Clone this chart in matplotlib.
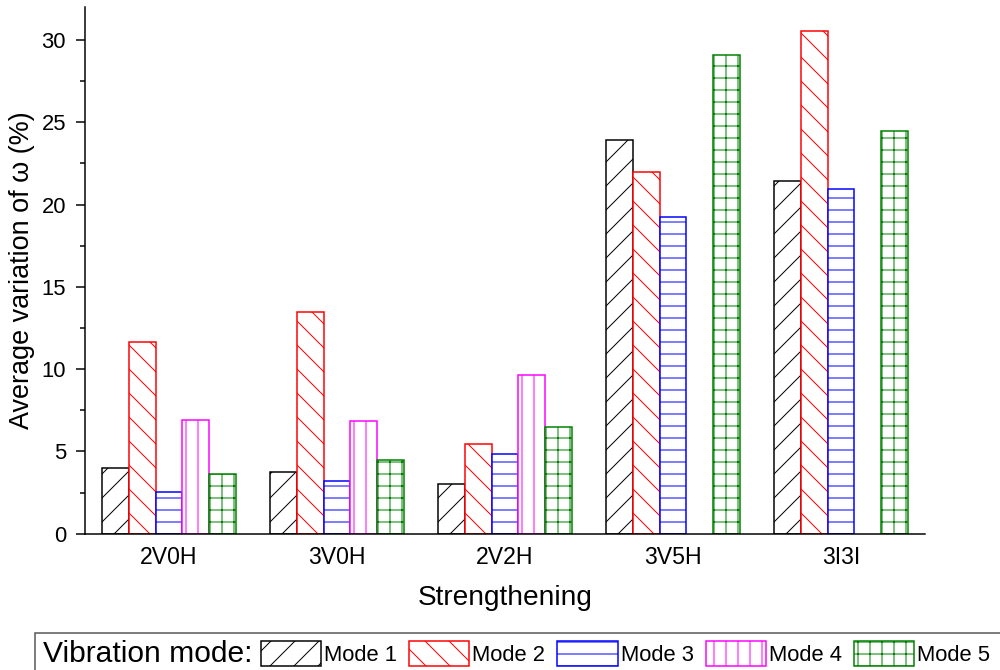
import matplotlib
matplotlib.use('Agg')
import matplotlib.pyplot as plt
import numpy as np
from matplotlib.patches import Patch, Rectangle
from matplotlib.ticker import MultipleLocator

plt.rcParams['font.family'] = ['Liberation Sans', 'DejaVu Sans']
plt.rcParams['hatch.linewidth'] = 1.0

# Average variation of the natural frequency per strengthening scheme
strengthening = ['2V0H', '3V0H', '2V2H', '3V5H', '3I3I']
mode_1 = [4.01, 3.77, 3.02, 23.9, 21.4]
mode_2 = [11.63, 13.47, 5.45, 22.0, 30.56]
mode_3 = [2.53, 3.22, 4.82, 19.26, 20.96]
mode_4 = [6.91, 6.87, 9.66, np.nan, np.nan]  # no mode 4 for 3V5H / 3I3I
mode_5 = [3.63, 4.48, 6.46, 29.08, 24.45]

series = [mode_1, mode_2, mode_3, mode_4, mode_5]
labels = ['Mode 1', 'Mode 2', 'Mode 3', 'Mode 4', 'Mode 5']
colors = ['black', 'red', 'blue', 'magenta', 'green']
hatches = ['/', '\\', '-', '|', '+']

fig = plt.figure(figsize=(1000 / 72, 670 / 72), dpi=72)
ax = fig.add_axes([0.085, 1 - 533.7 / 670, 0.84, (533.7 - 7) / 670])

x = np.arange(len(strengthening))
width = 0.16
for i, (vals, c, h) in enumerate(zip(series, colors, hatches)):
    ax.bar(x + (i - 2) * width, vals, width, facecolor='white',
           edgecolor=c, hatch=h, linewidth=1.5)

ax.set_xlim(-0.5, 4.5)
ax.set_ylim(0, 32)
ax.set_xticks(x)
ax.set_xticklabels(strengthening)
ax.yaxis.set_major_locator(MultipleLocator(5))
ax.yaxis.set_minor_locator(MultipleLocator(2.5))

for side in ['top', 'right']:
    ax.spines[side].set_visible(False)
for side in ['left', 'bottom']:
    ax.spines[side].set_linewidth(1.5)

ax.tick_params(axis='y', which='major', length=9, width=1.5, labelsize=22, pad=10)
ax.tick_params(axis='y', which='minor', length=5, width=1.5)
ax.tick_params(axis='x', length=0, labelsize=23, pad=12)

ax.set_xlabel('Strengthening', fontsize=28, labelpad=16)
ax.set_ylabel('Average variation of ω (%)', fontsize=27, labelpad=6)

# legend strip along the bottom edge
fig.add_artist(Rectangle((35 / 1000, -0.01), 0.97, (670 - 632.5) / 670 + 0.01,
                         transform=fig.transFigure, fill=False,
                         edgecolor='#555555', linewidth=1.5, clip_on=False))
fig.text(43 / 1000, 1 - 654 / 670, 'Vibration mode:', fontsize=30, va='center')

handles = [Patch(facecolor='white', edgecolor=c, hatch=h, linewidth=1.5)
           for c, h in zip(colors, hatches)]
fig.legend(handles, labels, loc='center left',
           bbox_to_anchor=(261 / 1000, 1 - 653.5 / 670), ncol=5, frameon=False,
           fontsize=22, handlelength=2.73, handleheight=1.41, handletextpad=0.14,
           columnspacing=0.55, borderpad=0, borderaxespad=0)

fig.savefig('out.png', dpi=72)
